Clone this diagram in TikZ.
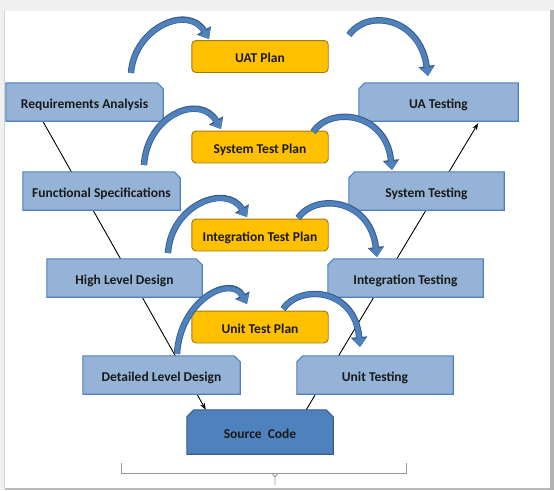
\documentclass[tikz,border=0pt]{standalone}
\usepackage{fontspec}
\setmainfont{Carlito}
\usetikzlibrary{arrows.meta,calc}
\definecolor{boxblue}{HTML}{95B3D7}
\definecolor{boxline}{HTML}{4F81BD}
\definecolor{darkblue}{HTML}{4F81BD}
\definecolor{darkline}{HTML}{385D8A}
\definecolor{plany}{HTML}{FFC000}
\definecolor{planline}{HTML}{A07A10}
\definecolor{txt}{HTML}{1A1A1A}
\pgfdeclarelayer{bg}
\pgfdeclarelayer{lines}
\pgfdeclarelayer{boxes}
\pgfsetlayers{bg,lines,boxes,main}
\newcommand\snipTR[2]{\draw[#2] (#1.south west) -- (#1.north west) -- ([xshift=-6pt]#1.north east) -- ([yshift=-6pt]#1.north east) -- (#1.south east) -- cycle;}
\newcommand\snipTL[2]{\draw[#2] (#1.south west) -- ([yshift=-6pt]#1.north west) -- ([xshift=6pt]#1.north west) -- (#1.north east) -- (#1.south east) -- cycle;}
\newcommand\snipTB[2]{\draw[#2] (#1.south west) -- ([yshift=-7pt]#1.north west) -- ([xshift=7pt]#1.north west) -- ([xshift=-7pt]#1.north east) -- ([yshift=-7pt]#1.north east) -- (#1.south east) -- cycle;}
\tikzset{
  lbl/.style={inner sep=0pt, text=txt, text height=12pt, text depth=0pt, font=\fontsize{13.5}{15}\selectfont\bfseries},
  vbox/.style={lbl, minimum width=157pt, minimum height=38pt},
  pbox/.style={lbl, minimum width=136pt, minimum height=31.5pt},
  vfill/.style={fill=boxblue, draw=boxline, line width=1.1pt},
  pfill/.style={fill=plany, draw=planline, line width=0.9pt, rounded corners=4pt},
  vline/.style={draw=black, line width=0.9pt},
  arcout/.style={draw=darkline, line width=6.4pt, -{Triangle[length=10pt,width=16pt]}},
  arcin/.style={draw=darkblue, line width=4.6pt, -{Triangle[length=8.4pt,width=13.2pt]}},
}
\newcommand\curvearrow[1]{\draw[arcout] #1; \draw[arcin] #1;}
\begin{document}
\begin{tikzpicture}[x=1pt,y=-1pt]
\useasboundingbox (0,0) rectangle (554,490);
\begin{pgfonlayer}{bg}
  \fill[gray!12] (0,0) rectangle (554,490);
  \fill[white] (4.5,11) rectangle (549.5,488);
  \draw[gray!35, line width=0.8pt] (4.5,11) -- (4.5,488);
  \fill[gray!60] (549.5,10) rectangle (554,490);
  \fill[gray!55] (4.5,487.5) rectangle (549.5,490);
  % brace
  \draw[gray!80, line width=0.9pt] (121,463) -- (121,473) -- (406,473) -- (406,463);
  \draw[gray!80, line width=0.9pt] (272,473) -- (275,477) -- (275,485);
  \draw[gray!80, line width=0.9pt] (278,473) -- (275,477);
\end{pgfonlayer}

% V-model left side
\node[vbox] (ra)  at (84.5,102)  {Requirements Analysis};
\node[vbox] (fs)  at (101.5,191) {Functional Specifications};
\node[vbox, minimum width=155pt] (hld) at (124.5,278) {High Level Design};
\node[vbox] (dld) at (161.5,375) {Detailed Level Design};
% right side
\node[vbox, minimum width=159pt] (ua)  at (438.5,102) {UA Testing};
\node[vbox, minimum width=155pt] (st)  at (426.5,191) {System Testing};
\node[vbox, minimum width=155pt] (it)  at (405.5,278) {Integration Testing};
\node[vbox, minimum width=156pt] (ut)  at (375,375)   {Unit Testing};
% bottom
\node[lbl, minimum width=146pt, minimum height=44pt] (sc) at (260,432) {Source\ \ Code};
% plans
\node[pbox] (uat) at (260,56.5) {UAT Plan};
\node[pbox] (stp) at (260,147)  {System Test Plan};
\node[pbox] (itp) at (260,235)  {Integration Test Plan};
\node[pbox] (utp) at (260,327)  {Unit Test Plan};

\begin{pgfonlayer}{boxes}
  \snipTR{ra}{vfill}
  \snipTR{fs}{vfill}
  \snipTR{hld}{vfill}
  \snipTR{dld}{vfill}
  \snipTL{ua}{vfill}
  \snipTL{st}{vfill}
  \snipTL{it}{vfill}
  \snipTL{ut}{vfill}
  \snipTB{sc}{fill=darkblue, draw=darkline, line width=1.1pt}
  \foreach \n in {uat,stp,itp,utp} {
    \draw[pfill] (\n.south west) rectangle (\n.north east);
  }
\end{pgfonlayer}

\begin{pgfonlayer}{lines}
  \coordinate (lstart) at ([xshift=37pt]ra.south west);
  \coordinate (lend)   at ([xshift=19pt]sc.north west);
  \coordinate (rstart) at ([xshift=-27pt]sc.north east);
  \coordinate (rend)   at ([xshift=-40pt,yshift=-2pt]ua.south east);
  \draw[vline, -{Stealth[length=7pt,width=5pt]}] (lstart) -- (lend);
  \draw[vline, -{Stealth[length=7pt,width=5pt]}] (rstart) -- (rend);
\end{pgfonlayer}

% curved arrows
\coordinate (a1s) at (131,73);  \coordinate (a1e) at (209,39);
\coordinate (a2s) at (349,35);  \coordinate (a2e) at (428,76);
\coordinate (a3s) at (144,165); \coordinate (a3e) at (221,129);
\coordinate (a4s) at (313,132); \coordinate (a4e) at (392,170);
\coordinate (a5s) at (168,253); \coordinate (a5e) at (247,217);
\coordinate (a6s) at (298,218); \coordinate (a6e) at (377,257);
\coordinate (a7s) at (177,354); \coordinate (a7e) at (247,304);
\coordinate (a8s) at (283,309); \coordinate (a8e) at (360,347);
\curvearrow{(a1s) .. controls (134,28) and (188,4) .. (a1e)}
\curvearrow{(a2s) .. controls (368,8) and (420,18) .. (a2e)}
\curvearrow{(a3s) .. controls (147,115) and (200,93) .. (a3e)}
\curvearrow{(a4s) .. controls (330,106) and (386,112) .. (a4e)}
\curvearrow{(a5s) .. controls (171,205) and (226,183) .. (a5e)}
\curvearrow{(a6s) .. controls (315,193) and (370,198) .. (a6e)}
\curvearrow{(a7s) .. controls (180,300) and (231,274) .. (a7e)}
\curvearrow{(a8s) .. controls (300,284) and (355,288) .. (a8e)}
\end{tikzpicture}
\end{document}
